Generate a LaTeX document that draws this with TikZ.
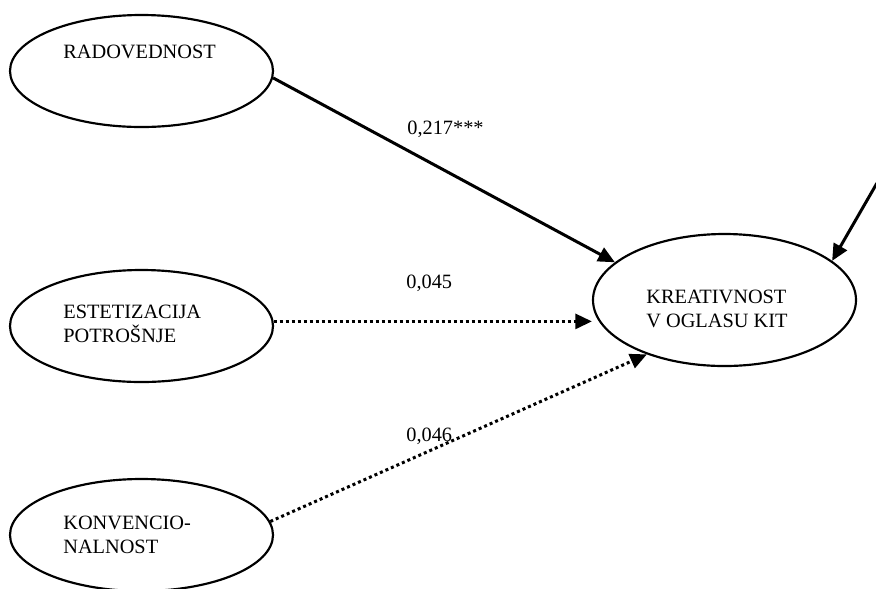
\documentclass[tikz,border=0pt]{standalone}
\usepackage{fontspec}
\setmainfont{Liberation Serif}
\usepackage{tikz}
\usetikzlibrary{arrows.meta, shapes.geometric, positioning, calc}

\begin{document}
\begin{tikzpicture}[
    x=0.6pt, y=-0.6pt,
    ell/.style={draw, ellipse, line width=1.3pt, inner sep=0pt,
                minimum width=157.8pt, minimum height=67.2pt},
    txt/.style={inner sep=0pt, anchor=base west, align=left,
                font=\fontsize{12.2}{14.4}\selectfont},
    arr/.style={-{Triangle[length=10pt, width=9pt]}, line width=1.8pt},
    dotarr/.style={arr, dash pattern=on 1.8pt off 1.8pt},
    lab/.style={inner sep=0pt, anchor=base west,
                font=\fontsize{12.2}{14.4}\selectfont},
  ]
    \useasboundingbox (0,0) rectangle (876,588);

    % latent variables
    \node[ell] (rad) at (141.5,71) {};
    \node[ell] (est) at (141.5,326) {};
    \node[ell] (kon) at (141.5,535) {};
    \node[ell, minimum height=79.2pt] (kre) at (724.5,300) {};
    \coordinate (ext) at (877,183);

    % texts (base = last line)
    \node[txt] (radt) at (63,58) {RADOVEDNOST};
    \node[txt] (estt) at (63,342) {ESTETIZACIJA\\POTRO\v{S}NJE};
    \node[txt] (kont) at (63,553) {KONVENCIO-\\NALNOST};
    \node[txt] (kret) at (646,327) {KREATIVNOST\\V OGLASU KIT};

    % paths
    \draw[arr] (rad.-3) -- (kre.161);
    \draw[dotarr] (est.2.5) -- (est.2.5 -| kre.west);
    \draw[dotarr] (kon.6) -- (kre.215);
    \draw[arr] (ext) -- (kre.20);

    \node[lab] (l1) at (407,134) {0,217***};
    \node[lab] (l2) at (406,288) {0,045};
    \node[lab] (l3) at (406,441) {0,046};
  \end{tikzpicture}
\end{document}
